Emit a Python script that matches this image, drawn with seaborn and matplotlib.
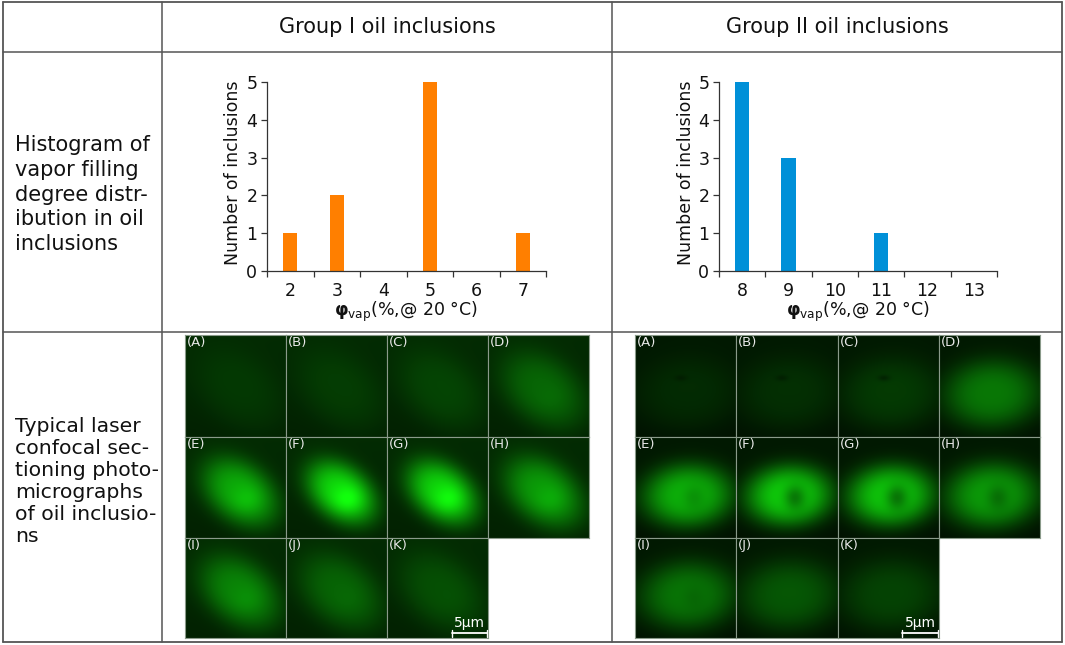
import numpy as np
import pandas as pd
import matplotlib
matplotlib.use("Agg")
import matplotlib.pyplot as plt
import seaborn as sns
from matplotlib.lines import Line2D

# ---------------- data ----------------
group1_bins = ["2", "3", "4", "5", "6", "7"]
group1_counts = [1, 2, 0, 5, 0, 1]
group2_bins = ["8", "9", "10", "11", "12", "13"]
group2_counts = [5, 3, 0, 1, 0, 0]
y_ticks = [0, 1, 2, 3, 4, 5]
header_labels = ["Group I oil inclusions", "Group II oil inclusions"]
row1_lines = ["Histogram of", "vapor filling", "degree distr-", "ibution in oil", "inclusions"]
row2_lines = ["Typical laser", "confocal sec-", "tioning photo-", "micrographs", "of oil inclusio-", "ns"]
panel_labels = ["(A)", "(B)", "(C)", "(D)", "(E)", "(F)", "(G)", "(H)", "(I)", "(J)", "(K)"]
group1_brightness = [0.10, 0.12, 0.16, 0.34, 0.70, 0.95, 0.92, 0.62, 0.50, 0.33, 0.22]
group2_brightness = [0.10, 0.12, 0.17, 0.45, 0.72, 0.85, 0.82, 0.62, 0.44, 0.30, 0.21]
group2_hole = [0.0, 0.0, 0.0, 0.0, 0.15, 0.35, 0.35, 0.25, 0.10, 0.0, 0.0]
scale_text = "5μm"

ORANGE = "#FF7F00"
BLUE = "#0090D8"
W, H = 1065, 645

sns.set_theme(style="white")
plt.rcParams["font.family"] = ["DejaVu Sans"]
plt.rcParams["mathtext.fontset"] = "dejavusans"

fig = plt.figure(figsize=(W / 100, H / 100), dpi=100)
fig.patch.set_facecolor("white")


def ax_px(l, t, r, b):
    return fig.add_axes([l / W, 1 - b / H, (r - l) / W, (b - t) / H])


def hline(y, x0, x1, lw=1.1, color="#555555"):
    fig.add_artist(Line2D([x0 / W, x1 / W], [1 - y / H, 1 - y / H], lw=lw, color=color))


def vline(x, y0, y1, lw=1.1, color="#555555"):
    fig.add_artist(Line2D([x / W, x / W], [1 - y0 / H, 1 - y1 / H], lw=lw, color=color))


# ---------------- table grid ----------------
L, R, T, B = 3, 1062, 2, 642
for y in (T, 52, 332, B):
    hline(y, L, R, lw=1.3 if y in (T, B) else 1.1)
for x in (L, 162, 612, R):
    vline(x, T, B, lw=1.3 if x in (L, R) else 1.1)

fig.text(387 / W, 1 - 27 / H, header_labels[0], ha="center", va="center", fontsize=15, color="#111111")
fig.text(837 / W, 1 - 27 / H, header_labels[1], ha="center", va="center", fontsize=15, color="#111111")
for i, line in enumerate(row1_lines):
    fig.text(15 / W, 1 - (151 + 24.8 * i) / H, line, ha="left", va="baseline", fontsize=15, color="#111111")
for i, line in enumerate(row2_lines):
    fig.text(15 / W, 1 - (432 + 21.9 * i) / H, line, ha="left", va="baseline", fontsize=14.7, color="#111111")


# ---------------- histograms ----------------
def histogram(ax, bins, counts, color):
    df = pd.DataFrame({"bin": bins, "count": counts})
    sns.barplot(data=df, x="bin", y="count", order=bins, color=color, saturation=1,
                width=0.31, ax=ax, edgecolor="none")
    ax.set_xlim(-0.5, len(bins) - 0.5)
    ax.set_ylim(0, 5)
    ax.set_yticks(y_ticks)
    ax.set_yticklabels([str(v) for v in y_ticks], fontsize=12.5)
    ax.set_xticks(range(len(bins)))
    ax.set_xticklabels(bins, fontsize=12.5)
    ax.set_xticks(np.arange(-0.5, len(bins), 1.0), minor=True)
    ax.tick_params(axis="x", which="major", length=0, pad=8, colors="#111111")
    ax.tick_params(axis="x", which="minor", length=4, width=0.9, direction="out", color="#333333", bottom=True)
    ax.tick_params(axis="y", which="major", length=4, width=0.9, direction="out", color="#333333",
                   left=True, pad=3, labelcolor="#111111")
    for s in ("top", "right"):
        ax.spines[s].set_visible(False)
    for s in ("left", "bottom"):
        ax.spines[s].set_color("#333333")
        ax.spines[s].set_linewidth(0.9)
    ax.set_ylabel("Number of inclusions", fontsize=12.5, labelpad=1, color="#111111")
    ax.yaxis.set_label_coords(-0.088, 0.52)
    ax.set_xlabel(r"$\boldsymbol{\varphi}_{\rm vap}$(%,@ 20 °C)", fontsize=12.5, labelpad=0, color="#111111")
    ax.set_facecolor("white")
    ax.grid(False)


ax1 = ax_px(267, 82, 546, 271)
histogram(ax1, group1_bins, group1_counts, ORANGE)
ax2 = ax_px(719, 82, 997, 271)
histogram(ax2, group2_bins, group2_counts, BLUE)


# ---------------- photomicrographs ----------------
def inclusion_image(k, peak, group, hole, n=120):
    yy, xx = np.mgrid[0:1:n * 1j, 0:1:n * 1j]
    spread = 1.0 + (1.0 - peak) * 0.35
    if group == 1:
        cx, cy, ang, a, b = 0.55, 0.55, np.deg2rad(38), 0.38 * spread, 0.26 * spread
    else:
        cx, cy, ang, a, b = 0.52, 0.58, np.deg2rad(-3), 0.40 * spread, 0.28 * spread
    u = (xx - cx) * np.cos(ang) + (yy - cy) * np.sin(ang)
    v = -(xx - cx) * np.sin(ang) + (yy - cy) * np.cos(ang)
    r2 = (u / a) ** 2 + (v / b) ** 2
    blob = np.exp(-r2 ** 1.5)
    if group == 1:
        core = np.exp(-(((xx - 0.62) / 0.16) ** 2 + ((yy - 0.62) / 0.14) ** 2))
        blob = blob * (0.85 + 0.25 * core * peak)
        bg = 0.13 + 0.04 * (1 - yy)
    else:
        if hole > 0:
            dark = np.exp(-(((xx - 0.58) / 0.11) ** 2 + ((yy - 0.6) / 0.13) ** 2))
            blob = blob * (1 - hole * 1.3 * dark)
        if k < 3:
            spot = np.exp(-(((xx - 0.45) / 0.06) ** 2 + ((yy - 0.42) / 0.03) ** 2))
            blob = blob * (1 - 0.6 * spot)
        bg = 0.07 + 0.03 * (1 - yy)
    g = np.clip(bg + peak * 0.85 * blob, 0, 1)
    rgb = np.dstack([0.07 * g, g, 0.05 * g])
    return rgb


def photo_grid(x0, x1, y_rows, brightness, group):
    cw = (x1 - x0) / 4.0
    for k, peak in enumerate(brightness):
        r, c = divmod(k, 4)
        l = x0 + c * cw
        t, b = y_rows[r], y_rows[r + 1]
        ax = ax_px(l, t, l + cw, b)
        hole = group2_hole[k] if group == 2 else 0.0
        ax.imshow(inclusion_image(k, peak, group, hole), extent=(0, 1, 0, 1), aspect="auto")
        ax.set_xlim(0, 1)
        ax.set_ylim(0, 1)
        ax.set_xticks([])
        ax.set_yticks([])
        for s in ax.spines.values():
            s.set_color("#8a9a8a")
            s.set_linewidth(0.8)
            s.set_visible(True)
        ax.text(0.02, 0.99, panel_labels[k], transform=ax.transAxes, ha="left", va="top",
                fontsize=9.5, color="#e8e8e8")
        if k == len(brightness) - 1:
            ax.plot([0.64, 0.99], [0.045, 0.045], color="white", lw=1.3)
            ax.plot([0.64, 0.64], [0.01, 0.08], color="white", lw=1.0)
            ax.plot([0.99, 0.99], [0.01, 0.08], color="white", lw=1.0)
            ax.text(0.815, 0.08, scale_text, transform=ax.transAxes, ha="center", va="bottom",
                    fontsize=10, color="white")


rows = [335, 436.5, 537.5, 638]
photo_grid(185, 589, rows, group1_brightness, 1)
photo_grid(635, 1040, rows, group2_brightness, 2)

fig.savefig("out.png", dpi=100, facecolor="white")
